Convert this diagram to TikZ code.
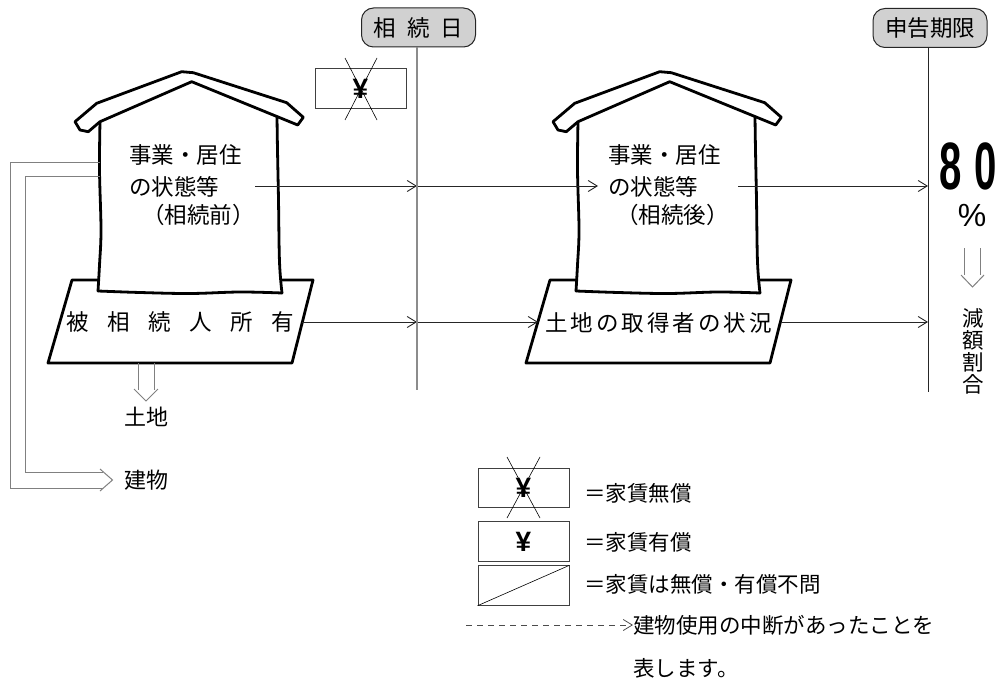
\documentclass[tikz,border=0pt]{standalone}
\usepackage{fontspec}
\setmainfont{Noto Sans CJK JP}
\newfontfamily\digitfont{Liberation Sans}
\usetikzlibrary{arrows.meta}

\tikzset{
  outline/.style={line width=2.8pt, line join=round, line cap=round},
  conn/.style={line width=0.9pt, black!85, -{Straight Barb[length=9pt,width=11pt,line width=0.9pt]}},
  breakline/.style={line width=0.8pt, black!70, dash pattern=on 6pt off 5pt, -{Straight Barb[length=9pt,width=11pt,line width=0.8pt]}},
  hollow/.style={line width=1pt, black!50},
  tag/.style={draw=black!85, line width=1pt, fill=black!18, rounded corners=12pt,
    minimum width=114pt, minimum height=39pt, inner sep=0pt, font=\fontsize{22.5}{30}\selectfont},
  lbl/.style={font=\fontsize{22.5}{30}\selectfont, inner sep=0pt},
  legend/.style={font=\fontsize{21.5}{28}\selectfont, inner sep=0pt, anchor=west},
  keybox/.style={draw=black!75, line width=0.9pt, minimum width=91pt, minimum height=39.5pt,
    inner sep=0pt, font=\digitfont\bfseries\fontsize{28}{28}\selectfont},
  % house: land parallelogram, walls and roof
  house/.pic={
    \draw[outline, fill=white] (72,280) -- (313,280) -- (292,363) -- (48,363) -- cycle;
    \fill[white] (100,121.7) -- (98,291) -- (282,293) -- (277,116.5) -- (191.7,81.7) -- cycle;
    \draw[outline] plot[smooth, tension=0.6] coordinates {(100,121.7) (99.5,170) (101,230) (99.5,265) (98,291)};
    \draw[outline] plot[smooth, tension=0.6] coordinates {(98,291) (140,292.5) (190,293.5) (240,292) (282,293)};
    \draw[outline] plot[smooth, tension=0.6] coordinates {(282,293) (279.5,262) (278.5,200) (277.5,150) (277,116.5)};
    \draw[outline, fill=white] (75,121.7) -- (96.7,103.3) -- (181.7,71.7) -- (193.3,72.7)
      -- (286.7,102.7) -- (303.3,117.3) -- (297.7,125) -- (191.7,81.7) -- (100,121.7)
      -- (88.3,131.7) -- (80,130) -- cycle;
  }
}

\begin{document}
\begin{tikzpicture}[x=1pt, y=-1pt]
\useasboundingbox (0,0) rectangle (1006,687);

% the two houses
\pic at (0,0) {house};
\pic at (478,0) {house};

% house texts
\node[lbl, anchor=west] (preA) at (129,155) {事業・居住};
\node[lbl, anchor=west] (preB) at (129,187) {の状態等};
\node[lbl] (preC) at (198.5,215) {（相続前）};
\node[lbl, anchor=west] (postA) at (608,155) {事業・居住};
\node[lbl, anchor=west] (postB) at (608,187) {の状態等};
\node[lbl] (postC) at (672.5,215) {（相続後）};

\node[lbl] (owner) at (180.5,322) {被\hspace{18.5pt}相\hspace{18.5pt}続\hspace{18.5pt}人\hspace{18.5pt}所\hspace{18.5pt}有};
\node[lbl] (heir) at (658.5,323) {土\hspace{3pt}地\hspace{3pt}の\hspace{3pt}取\hspace{3pt}得\hspace{3pt}者\hspace{3pt}の\hspace{3pt}状\hspace{3pt}況};

% time markers
\node[tag] (death) at (418.5,27.5) {相\hspace{11pt}続\hspace{11pt}日};
\node[tag] (limit) at (930,28) {申告期限};
\coordinate (deathEnd) at (417,390);
\coordinate (limitEnd) at (928,392);

% connector end points
\coordinate (t0) at (255,186);
\coordinate (t2) at (598,186);
\coordinate (t3) at (738,186);
\coordinate (b0) at (302,322);
\coordinate (b2) at (538,322);
\coordinate (b3) at (781,322);

\draw[conn] (t0) -- (t0 -| deathEnd);
\draw[conn] (t0 -| deathEnd) -- (t2);
\draw[conn] (t3) -- (t3 -| limitEnd);
\draw[conn] (b0) -- (b0 -| deathEnd);
\draw[conn] (b0 -| deathEnd) -- (b2);
\draw[conn] (b3) -- (b3 -| limitEnd);

\draw[line width=2pt, black!45] (death.south -| deathEnd) -- (deathEnd);
\draw[line width=1pt, black!85] (limit.south -| limitEnd) -- (limitEnd);

% rent-free marker above the first house
\node[keybox] (freeTop) at (360.5,88.5) {¥};
\draw[line width=0.6pt] (345,58) -- (377,120);
\draw[line width=0.6pt] (377,58) -- (345,120);

% land and building split arrows
\node[lbl, font=\fontsize{22}{22}\selectfont] (land) at (146,417) {土地};
\node[lbl, font=\fontsize{22}{22}\selectfont, anchor=west] (bldg) at (124,480) {建物};
\draw[hollow] (138,363) -- (138,390);
\draw[hollow] (154,363) -- (154,390);
\draw[hollow] (134,389) -- (146,401) -- (158,389);
\draw[hollow] (100,163) -- (10,163) -- (10,488) -- (103,488);
\draw[hollow] (100,177) -- (25,177) -- (25,472) -- (103,472);
\draw[hollow] (100,469) -- (112.5,480) -- (100,491);

% reduction rate
\node[inner sep=0pt] (rate) at (968.5,166) {\digitfont\bfseries\fontsize{67}{67}\selectfont\scalebox{0.6}[1]{8\hspace{21pt}0}};
\node[inner sep=0pt, font=\digitfont\fontsize{32}{32}\selectfont] (pct) at (972,215) {\%};
\draw[hollow] (964,248) -- (964,275);
\draw[hollow] (980,248) -- (980,275);
\draw[hollow] (961,275) -- (972.5,287) -- (984,275);
\node[inner sep=0pt, align=center, font=\fontsize{21.5}{22}\selectfont] (ratio) at (973,351) {減\\額\\割\\合};

% legend
\node[keybox] (kFree) at (523.5,488) {¥};
\draw[line width=0.6pt] (507,457) -- (540,518);
\draw[line width=0.6pt] (540,457) -- (507,518);
\node[keybox] (kPaid) at (523.5,541.5) {¥};
\node[keybox] (kAny) at (523.5,585.5) {};
\draw[line width=0.6pt] (kAny.south west) -- (kAny.north east);

\node[legend] (tFree) at (584,493) {＝家賃無償};
\node[legend] (tPaid) at (584,542) {＝家賃有償};
\node[legend] (tAny) at (584,584) {＝家賃は無償・有償不問};
\node[legend] (tBreak) at (633,625) {建物使用の中断があったことを};
\node[legend] (tBreak2) at (633,668) {表します。};
\coordinate (dashStart) at (466,625);
\draw[breakline] (dashStart) -- (tBreak.west);
\end{tikzpicture}
\end{document}
